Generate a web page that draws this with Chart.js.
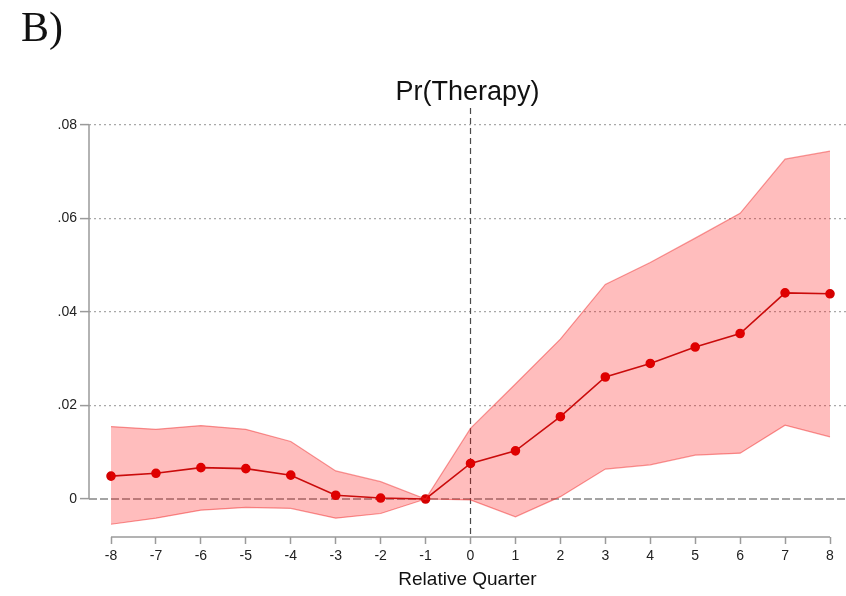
<!DOCTYPE html>
<html>
<head>
<meta charset="utf-8">
<script src="https://cdn.jsdelivr.net/npm/chart.js@4.4.0/dist/chart.umd.min.js"></script>
<style>
  html, body { margin: 0; padding: 0; background: #fff; }
  #wrap { width: 846px; height: 596px; }
</style>
</head>
<body>
<div id="wrap"><canvas id="therapyChart" width="846" height="596"></canvas></div>
<script>
// event study: Pr(Therapy) by relative quarter
const quarters = [-8, -7, -6, -5, -4, -3, -2, -1, 0, 1, 2, 3, 4, 5, 6, 7, 8];
const estimate = [0.0049, 0.0055, 0.0067, 0.0065, 0.0051, 0.0008, 0.0002, 0, 0.0076, 0.0103, 0.0176, 0.0261, 0.0290, 0.0325, 0.0354, 0.0441, 0.0439];
const upperCI = [0.0155, 0.0149, 0.0157, 0.0149, 0.0123, 0.0060, 0.0037, 0, 0.0151, 0.0246, 0.0342, 0.0459, 0.0506, 0.0558, 0.0611, 0.0727, 0.0744];
const lowerCI = [-0.0054, -0.0041, -0.0024, -0.0018, -0.0020, -0.0041, -0.0031, 0, -0.0002, -0.0038, 0.0005, 0.0064, 0.0073, 0.0094, 0.0098, 0.0158, 0.0133];
const yTicks = [0, 0.02, 0.04, 0.06, 0.08];
const yTickLabels = ['0', '.02', '.04', '.06', '.08'];

const toPoints = (vals) => quarters.map((q, i) => ({ x: q, y: vals[i] }));
const axisGray = '#9a9a9a';

const stataAxes = {
    id: 'stataAxes',
    beforeDatasetsDraw(chart) {
        const { ctx, chartArea, scales: { x, y } } = chart;
        ctx.save();
        ctx.strokeStyle = '#4a4a4a';
        ctx.lineWidth = 1.2;
        ctx.setLineDash([8, 3]);
        ctx.beginPath();
        ctx.moveTo(chartArea.left, y.getPixelForValue(0));
        ctx.lineTo(chartArea.right, y.getPixelForValue(0));
        ctx.stroke();
        ctx.setLineDash([6, 4]);
        ctx.beginPath();
        ctx.moveTo(x.getPixelForValue(0), chartArea.top);
        ctx.lineTo(x.getPixelForValue(0), chartArea.bottom);
        ctx.stroke();
        ctx.restore();
    },
    afterDraw(chart) {
        const { ctx, chartArea, scales: { x, y } } = chart;
        ctx.save();
        ctx.strokeStyle = axisGray;
        ctx.lineWidth = 1.5;
        ctx.beginPath();
        ctx.moveTo(chartArea.left, y.getPixelForValue(yTicks[yTicks.length - 1]));
        ctx.lineTo(chartArea.left, y.getPixelForValue(yTicks[0]));
        ctx.moveTo(x.getPixelForValue(quarters[0]), chartArea.bottom);
        ctx.lineTo(x.getPixelForValue(quarters[quarters.length - 1]), chartArea.bottom);
        ctx.stroke();
        // panel letter
        ctx.fillStyle = '#111';
        ctx.font = '42px "Liberation Serif", "DejaVu Serif", serif';
        ctx.textBaseline = 'alphabetic';
        ctx.fillText('B)', 21, 41);
        ctx.restore();
    }
};

new Chart(document.getElementById('therapyChart').getContext('2d'), {
    type: 'line',
    data: {
        datasets: [{
            label: 'upper',
            data: toPoints(upperCI),
            borderColor: 'rgba(240, 50, 50, 0.5)',
            borderWidth: 1.2,
            backgroundColor: 'rgba(255, 0, 0, 0.26)',
            pointRadius: 0,
            fill: '+1',
            tension: 0
        }, {
            label: 'lower',
            data: toPoints(lowerCI),
            borderColor: 'rgba(240, 50, 50, 0.5)',
            borderWidth: 1.2,
            pointRadius: 0,
            fill: false,
            tension: 0
        }, {
            label: 'estimate',
            data: toPoints(estimate),
            borderColor: '#b81010',
            borderWidth: 1.6,
            backgroundColor: '#d40000',
            pointBackgroundColor: '#d40000',
            pointBorderColor: '#d40000',
            pointRadius: 4,
            fill: false,
            tension: 0
        }]
    },
    options: {
        responsive: false,
        animation: false,
        layout: { autoPadding: false, padding: { left: 0, right: 0, top: 0, bottom: 0 } },
        plugins: {
            legend: { display: false },
            tooltip: { enabled: false },
            title: {
                display: true,
                text: 'Pr(Therapy)',
                fullSize: false,
                color: '#111',
                font: { family: '"Liberation Sans", Arial, sans-serif', size: 27, weight: 'normal', lineHeight: 1 },
                padding: { top: 79, bottom: 2 }
            }
        },
        scales: {
            x: {
                type: 'linear',
                min: -8.49,
                max: 8.356,
                afterBuildTicks: (scale) => { scale.ticks = quarters.map(v => ({ value: v })); },
                afterFit: (scale) => {
                    scale.height = 59;
                    scale.paddingLeft = 0;
                    scale.paddingRight = 0;
                },
                grid: { drawOnChartArea: false, tickLength: 7, tickColor: axisGray, tickWidth: 1.5 },
                border: { display: false },
                ticks: {
                    color: '#222',
                    padding: 4,
                    maxRotation: 0,
                    autoSkip: false,
                    font: { family: '"Liberation Sans", Arial, sans-serif', size: 14 }
                },
                title: {
                    display: true,
                    text: 'Relative Quarter',
                    color: '#111',
                    font: { family: '"Liberation Sans", Arial, sans-serif', size: 19 },
                    padding: { top: 0, bottom: 5 }
                }
            },
            y: {
                min: -0.00813,
                max: 0.08364,
                afterBuildTicks: (scale) => { scale.ticks = yTicks.map(v => ({ value: v })); },
                afterFit: (scale) => { scale.width = 89; },
                grid: {
                    color: (ctx) => (ctx.tick && ctx.tick.value === 0) ? 'rgba(0,0,0,0)' : '#a8a8a8',
                    lineWidth: 1.2,
                    tickLength: 9,
                    tickColor: axisGray,
                    tickWidth: 1.5,
                    tickBorderDash: []
                },
                border: { display: false, dash: [2, 3] },
                ticks: {
                    color: '#222',
                    padding: 3,
                    font: { family: '"Liberation Sans", Arial, sans-serif', size: 14 },
                    callback: (value) => {
                        const i = yTicks.findIndex(t => Math.abs(t - value) < 1e-9);
                        return i >= 0 ? yTickLabels[i] : '';
                    }
                }
            }
        }
    },
    plugins: [stataAxes]
});
</script>
</body>
</html>
